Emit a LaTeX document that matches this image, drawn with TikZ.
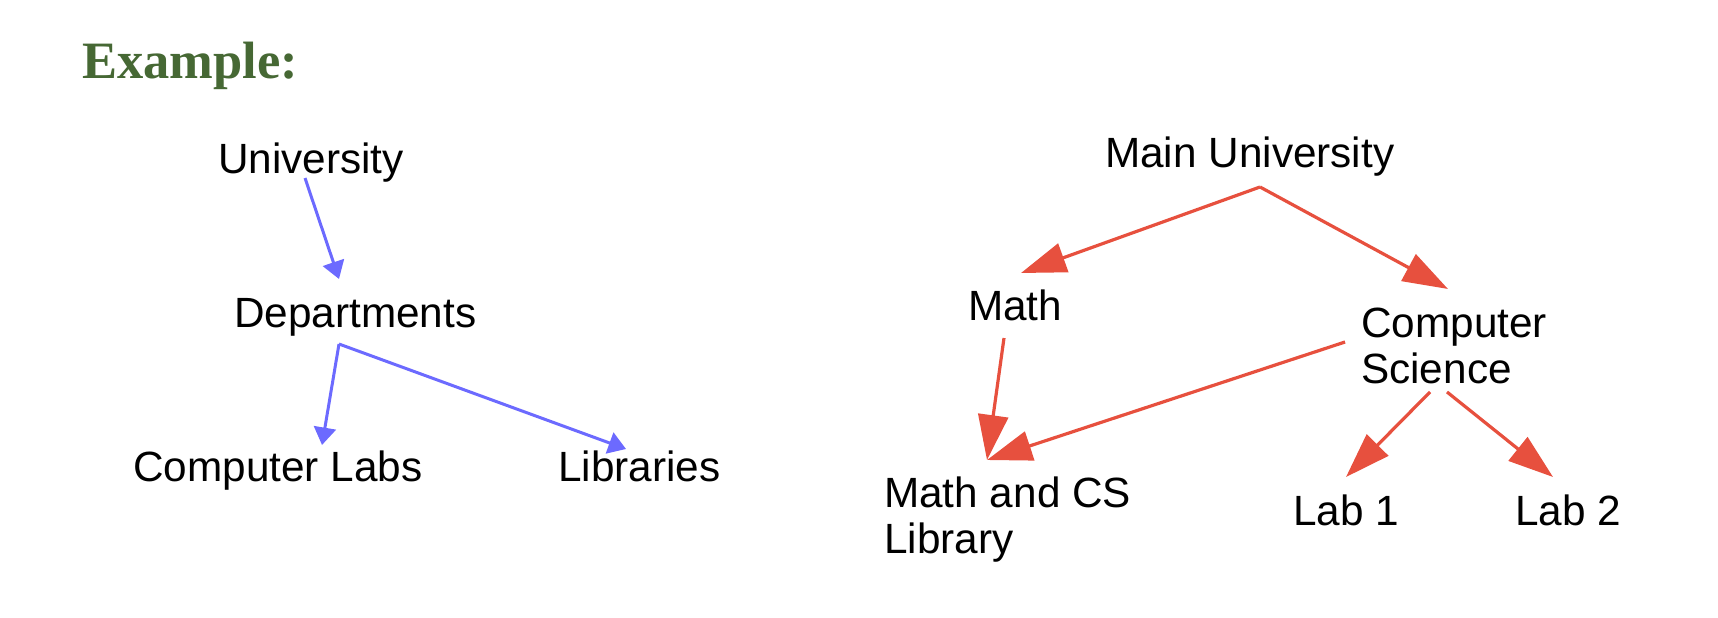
\documentclass[tikz,border=0pt]{standalone}
\usepackage{fontspec}
\setmainfont{Liberation Sans}
\newfontfamily\titlefont{Liberation Serif}
\usetikzlibrary{arrows.meta}
\definecolor{bluearr}{RGB}{108,106,255}
\definecolor{redarr}{RGB}{231,80,62}
\definecolor{titlegreen}{RGB}{70,104,52}
\tikzset{
  lbl/.style={anchor=base west, inner sep=0pt, font=\fontsize{42.3}{46}\selectfont, align=left},
  bluelink/.style={draw=bluearr, line width=3pt, -{Triangle[length=17.5pt,width=22pt]}, fill=bluearr},
  redlink/.style={draw=redarr, line width=3.2pt, -{Triangle[length=45pt,width=30pt]}, fill=redarr}
}
\begin{document}
\begin{tikzpicture}[x=1pt,y=-1pt]
\useasboundingbox (0,0) rectangle (1718,618);
\node[anchor=base west, inner sep=0pt, font=\titlefont\bfseries\fontsize{52.5}{57}\selectfont, text=titlegreen] (title) at (82,78) {Example:};

% left tree
\node[lbl] (univ) at (218,173) {University};
\node[lbl] (dept) at (234,327) {Departments};
\node[lbl] (labs) at (133,481) {Computer Labs};
\node[lbl] (libs) at (558,481) {Libraries};
\coordinate (univout) at (305,178);
\coordinate (deptin) at (339,279);
\coordinate (deptout) at (339,344);
\coordinate (labsin) at (322,445);
\coordinate (libsin) at (626,449);
\draw[bluelink] (univout) -- (deptin);
\draw[bluelink] (deptout) -- (labsin);
\draw[bluelink] (deptout) -- (libsin);

% right tree
\node[lbl] (main) at (1105,167) {Main University};
\node[lbl] (math) at (968,320) {Math};
\node[lbl] (cs) at (1361,383) {Computer\\Science};
\node[lbl] (lib) at (884,553) {Math and CS\\Library};
\node[lbl] (lab1) at (1293,525) {Lab 1};
\node[lbl] (lab2) at (1515,525) {Lab 2};
\coordinate (mainout) at (1260,187);
\coordinate (mathin) at (1021,273);
\coordinate (csin) at (1448,289);
\coordinate (mathout) at (1004,338);
\coordinate (csoutl) at (1345,342);
\coordinate (libin) at (987,460);
\coordinate (csout1) at (1430,392);
\coordinate (csout2) at (1447,392);
\coordinate (lab1in) at (1346,477);
\coordinate (lab2in) at (1553,477);
\draw[redlink] (mainout) -- (mathin);
\draw[redlink] (mainout) -- (csin);
\draw[redlink] (mathout) -- (libin);
\draw[redlink] (csoutl) -- (libin);
\draw[redlink] (csout1) -- (lab1in);
\draw[redlink] (csout2) -- (lab2in);
\end{tikzpicture}
\end{document}
